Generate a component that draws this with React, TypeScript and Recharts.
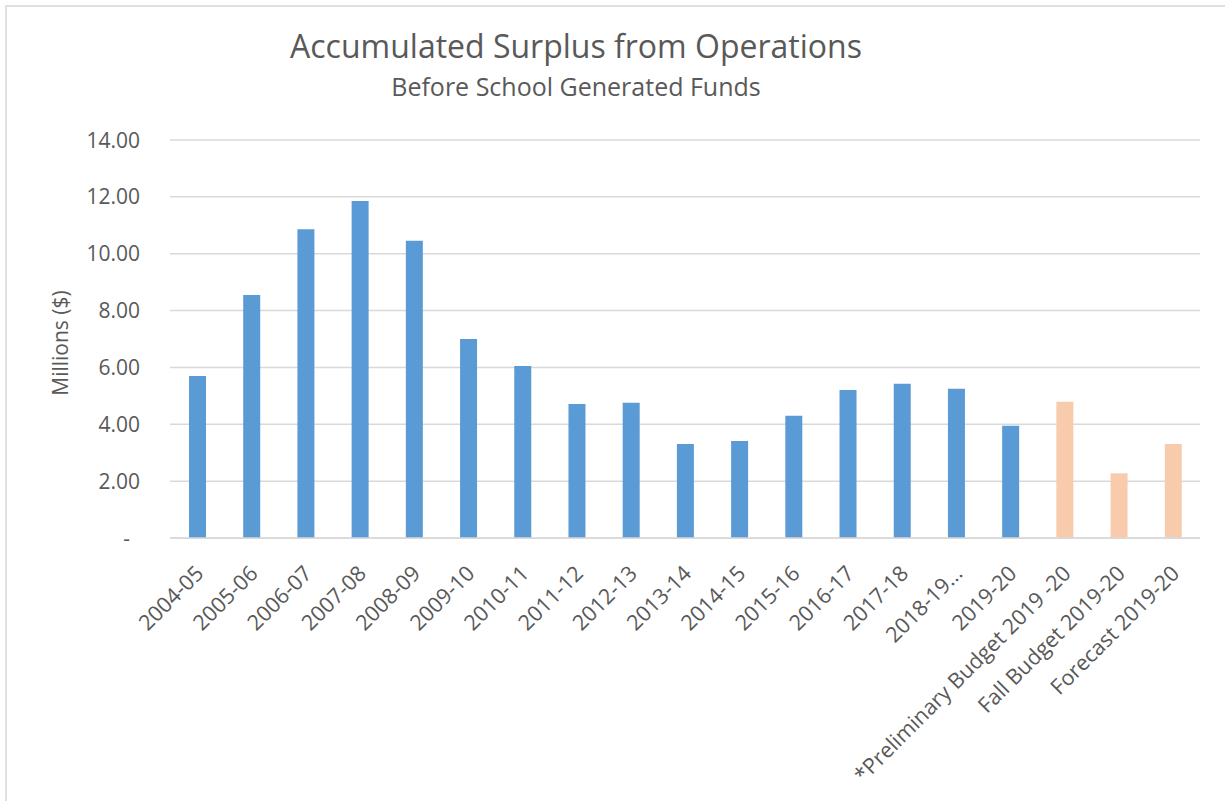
import { Bar, BarChart, CartesianGrid, Cell, XAxis, YAxis } from "recharts";

const years = [
  "2004-05", "2005-06", "2006-07", "2007-08", "2008-09", "2009-10", "2010-11",
  "2011-12", "2012-13", "2013-14", "2014-15", "2015-16", "2016-17", "2017-18",
  "2018-19...", "2019-20", "*Preliminary Budget 2019 -20", "Fall Budget 2019-20", "Forecast 2019-20",
];
const surplus = [
  5.70, 8.55, 10.86, 11.85, 10.46, 7.0, 6.05,
  4.71, 4.76, 3.31, 3.41, 4.30, 5.21, 5.43,
  5.25, 3.95, 4.79, 2.28, 3.31,
];
const projected = [
  false, false, false, false, false, false, false,
  false, false, false, false, false, false, false,
  false, false, true, true, true,
];
const yTicks = [0, 2, 4, 6, 8, 10, 12, 14];

const data = years.map((year, i) => ({ year, value: surplus[i], projected: projected[i] }));

const TXT = "#595959";
const FONT = "'Open Sans', sans-serif";

function XTick({ x, y, payload }: any) {
  const px = x - 3;
  const py = y + 18;
  return (
    <text x={px} y={py} transform={`rotate(-45 ${px} ${py})`} textAnchor="end" dy="0.71em"
      fill={TXT} fontSize={21.5} fontFamily={FONT}>
      {payload.value}
    </text>
  );
}

function YTick({ x, y, payload }: any) {
  const v = payload.value as number;
  return (
    <text x={v === 0 ? x - 10 : x} y={y} dy="0.36em" textAnchor="end" fill={TXT} fontSize={21} fontFamily={FONT}>
      {v === 0 ? "-" : v.toFixed(2)}
    </text>
  );
}

export default function App() {
  return (
    <div style={{ position: "relative", width: 1225, height: 801, background: "#fff", fontFamily: FONT }}>
      <style>{`body{margin:0}`}</style>
      <div style={{ position: "absolute", left: 5, top: 5, width: 1220, height: 796, borderLeft: "2px solid #e0e0e0", borderTop: "2px solid #e0e0e0" }} />
      <div style={{ position: "absolute", left: 226, width: 700, top: 25, textAlign: "center", color: TXT, fontSize: 32, lineHeight: "42px" }}>
        Accumulated Surplus from Operations
      </div>
      <div style={{ position: "absolute", left: 226, width: 700, top: 70, textAlign: "center", color: TXT, fontSize: 25, lineHeight: "32px" }}>
        Before School Generated Funds
      </div>
      <div style={{ position: "absolute", left: 0, top: 0 }}>
        <BarChart width={1225} height={801} data={data} margin={{ top: 140, right: 25, bottom: 0, left: 0 }} barSize={17}>
          <CartesianGrid vertical={false} stroke="#d9d9d9" strokeWidth={1.5} />
          <XAxis dataKey="year" interval={0} tickLine={false} axisLine={{ stroke: "#d9d9d9", strokeWidth: 1.5 }}
            height={263} tick={<XTick />} />
          <YAxis domain={[0, 14]} ticks={yTicks} width={170} tickLine={false} axisLine={false}
            tickMargin={24} tick={<YTick />} />
          <Bar dataKey="value" isAnimationActive={false}>
            {data.map((d, i) => <Cell key={i} fill={d.projected ? "#F8CBAD" : "#5B9BD5"} />)}
          </Bar>
        </BarChart>
      </div>
      <div style={{ position: "absolute", left: 60, top: 343, transform: "translate(-50%, -50%) rotate(-90deg)", whiteSpace: "nowrap", color: TXT, fontSize: 21 }}>
        Millions ($)
      </div>
    </div>
  );
}
